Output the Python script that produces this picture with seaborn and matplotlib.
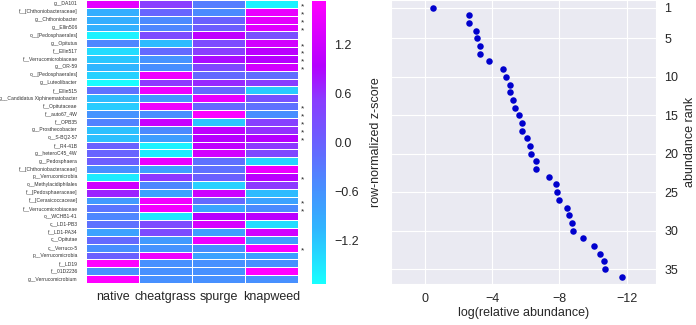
import pandas as pd
import seaborn as sns
import matplotlib.pyplot as plt
import matplotlib.ticker as ticker
from matplotlib.colors import LinearSegmentedColormap

# --- data ---
samples = ['native', 'cheatgrass', 'spurge', 'knapweed']

taxa = ['g__DA101', 'f__[Chthoniobacteraceae]', 'g__Chthoniobacter', 'g__Ellin506',
        'o__[Pedosphaerales]', 'g__Opitutus', 'f__Ellin517', 'f__Verrucomicrobiaceae',
        'g__OR-59', 'o__[Pedosphaerales]', 'g__Luteolibacter', 'f__Ellin515',
        'g__Candidatus Xiphinematobacter', 'f__Opitutaceae', 'f__auto67_4W', 'f__OPB35',
        'g__Prosthecobacter', 'o__S-BQ2-57', 'f__R4-41B', 'g__heteroC45_4W',
        'g__Pedosphaera', 'f__[Chthoniobacteraceae]', 'p__Verrucomicrobia',
        'o__Methylacidiphilales', 'f__[Pedosphaeraceae]', 'f__[Cerasicoccaceae]',
        'f__Verrucomicrobiaceae', 'o__WCHB1-41', 'c__LD1-PB3', 'f__LD1-PA34',
        'c__Opitutae', 'c__Verruco-5', 'p__Verrucomicrobia', 'f__LD19',
        'f__01D2236', 'g__Verrucomicrobium']

native = [1.45, -0.95, -0.95, -1.0, -1.6, -0.45, -1.4, -1.2, -1.05, -1.3, -1.7, -0.2,
          -1.1, -1.25, -0.6, -0.4, -1.15, -1.15, 0.0, -0.05, 0.05, -0.55, -1.55, 1.2,
          0.7, -0.7, -0.25, -0.45, -0.2, -0.8, -0.1, -0.55, 0.0, 1.73, -0.58, 1.73]
cheatgrass = [0.5, -0.05, -0.5, -0.45, 0.3, -1.1, -0.1, -0.6, -0.55, 1.55, 0.55, 1.55,
              -0.6, 1.55, -0.55, 1.15, -0.5, -0.75, -1.6, -1.55, 1.5, -0.75, 0.55, -0.45,
              -0.8, 1.6, 1.6, -1.5, 0.3, 0.3, -0.7, -0.6, 1.55, -0.58, -0.58, -0.58]
spurge = [-0.35, -0.5, 0.0, 0.05, 1.05, 0.3, 0.5, 0.85, 0.35, -0.1, 0.65, -0.1,
          1.5, -0.1, 1.7, -1.2, 1.05, 0.95, 1.05, 1.25, -0.2, -0.2, 0.0, -1.3,
          1.2, -0.1, -0.85, 0.95, 1.3, -0.75, 1.55, -0.55, -0.8, -0.58, -0.57, -0.58]
knapweed = [-1.6, 1.5, 1.45, 1.4, 0.25, 1.25, 1.0, 0.95, 1.25, -0.15, 0.5, -1.25,
            0.2, -0.2, -0.55, 0.45, 0.6, 0.95, 0.55, 0.35, -1.35, 1.55, 1.0, 0.55,
            -1.1, -0.8, -0.5, 1.0, -1.4, 1.25, -0.75, 1.7, -0.75, -0.57, 1.73, -0.57]

# rows (1-based) flagged with an asterisk
starred = [1, 2, 3, 4, 6, 7, 8, 9, 14, 15, 16, 17, 18, 23, 26, 27, 32]

rank = [1, 2, 3, 4, 5, 6, 7, 8, 9, 10, 11, 12, 13, 14, 15, 16, 17, 18,
        19, 20, 21, 22, 23, 24, 25, 26, 27, 28, 29, 30, 31, 32, 33, 34, 35, 36]
log_abund = [-0.47, -2.61, -2.66, -3.04, -3.08, -3.28, -3.30, -3.83, -4.66, -4.80,
             -5.07, -5.09, -5.27, -5.39, -5.59, -5.76, -5.78, -6.06, -6.28, -6.30,
             -6.59, -6.61, -7.38, -7.82, -7.84, -7.99, -8.45, -8.60, -8.74, -8.80,
             -9.39, -10.03, -10.40, -10.64, -10.72, -11.72]

# --- style ---
sns.set_style('darkgrid')
plt.rcParams['font.family'] = ['Liberation Sans', 'DejaVu Sans']

cmap = LinearSegmentedColormap.from_list(
    'cyan_magenta',
    [(0.0, '#18ffff'), (0.2, '#30b4ff'), (0.35, '#4a8cff'), (0.5, '#6a60ff'),
     (0.65, '#8a3cff'), (0.77, '#b400ff'), (1.0, '#ff00ff')])

fig = plt.figure(figsize=(6.96, 3.25), dpi=100)
ax_h = fig.add_axes([0.1236, 0.129, 0.305, 0.871])
cax = fig.add_axes([0.448, 0.126, 0.0201, 0.871])
ax_s = fig.add_axes([0.5618, 0.125, 0.381, 0.875])

# --- heatmap ---
heat = pd.DataFrame({'native': native, 'cheatgrass': cheatgrass,
                     'spurge': spurge, 'knapweed': knapweed})
sns.heatmap(heat, ax=ax_h, cbar_ax=cax, cmap=cmap, vmin=-1.732, vmax=1.732,
            linewidths=0.6, linecolor='white',
            xticklabels=samples, yticklabels=taxa,
            cbar_kws={'ticks': [-1.2, -0.6, 0.0, 0.6, 1.2]})
ax_h.tick_params(axis='y', labelsize=3.6, pad=6, length=0, rotation=0,
                 labelcolor='#333333')
ax_h.tick_params(axis='x', labelsize=9, pad=6, length=0, rotation=0)

for r in starred:
    ax_h.text(4.04, r - 0.1, '*', fontsize=6, ha='left', va='center',
              color='#222222', clip_on=False)

cax.yaxis.set_major_formatter(ticker.FuncFormatter(
    lambda v, p: f'{v:.1f}'.replace('-', '\u2212')))
cax.tick_params(labelsize=9, length=0, pad=6)
cax.set_ylabel('row-normalized z-score', fontsize=9, labelpad=8)

# --- rank / abundance scatter ---
sns.scatterplot(x=log_abund, y=rank, ax=ax_s, color='#0000cd', s=22, linewidth=0)
ax_s.set_xlim(2, -13.75)
ax_s.set_ylim(37, 0)
ax_s.set_xticks([0, -4, -8, -12])
ax_s.set_yticks([1, 5, 10, 15, 20, 25, 30, 35])
ax_s.xaxis.set_major_formatter(ticker.FuncFormatter(
    lambda v, p: f'{v:g}'.replace('-', '\u2212')))
ax_s.yaxis.tick_right()
ax_s.yaxis.set_label_position('right')
ax_s.tick_params(labelsize=9, length=0, pad=6)
ax_s.set_xlabel('log(relative abundance)', fontsize=9, labelpad=2)
ax_s.set_ylabel('abundance rank', fontsize=9, labelpad=4)

fig.savefig('out.png', dpi=100)
